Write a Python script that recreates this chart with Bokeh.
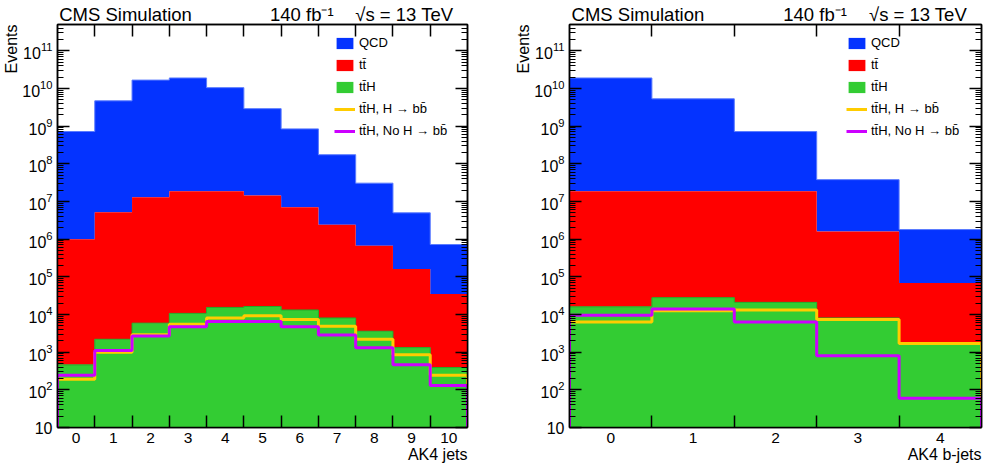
import numpy as np
from bokeh.plotting import figure
from bokeh.layouts import row
from bokeh.models import (Range1d, FixedTicker, LogAxis, LinearAxis, Legend, Title,
                          LegendItem, CustomJSTickFormatter)
from bokeh.embed import file_html
from bokeh.resources import INLINE

# ---------------- data ----------------
# Left panel: AK4 jets multiplicity
njet_bins = [0, 1, 2, 3, 4, 5, 6, 7, 8, 9, 10]
njet_qcd = [7.2e8, 4.7e9, 1.67e10, 1.9e10, 1.05e10, 2.9e9, 8.4e8, 1.72e8, 3.0e7, 4.84e6, 6.85e5]
njet_tt = [1.0e6, 5.2e6, 1.3e7, 1.86e7, 1.86e7, 1.45e7, 7.0e6, 2.4e6, 6.7e5, 1.59e5, 3.46e4]
njet_tth = [460, 2200, 5900, 10700, 15400, 16300, 13200, 8100, 3600, 1320, 390]
njet_tth_hbb = [190, 1000, 2900, 5500, 8100, 9200, 7400, 4900, 2200, 850, 245]
njet_tth_nohbb = [245, 1100, 2700, 4700, 6500, 6500, 4700, 2850, 1300, 460, 130]

# Right panel: AK4 b-jets multiplicity
nb_bins = [0, 1, 2, 3, 4]
nb_qcd = [1.9e10, 5.3e9, 7.0e8, 3.64e7, 1.73e6]
nb_tt = [1.86e7, 1.86e7, 1.86e7, 1.6e6, 6.7e4]
nb_tth = [16000, 28000, 21000, 8100, 1750]
nb_tth_hbb = [6300, 12500, 13200, 7400, 1700]
nb_tth_nohbb = [9500, 14000, 6300, 800, 60]

legend_labels = ["QCD", "tt\u0304", "tt\u0304H", "tt\u0304H, H \u2192 bb\u0304",
                 "tt\u0304H, No H \u2192 bb\u0304"]
header_texts = ["CMS Simulation", "140 fb\u207b\u00b9", "\u221as = 13 TeV"]

FONT = "Liberation Sans"
C_QCD = "#0433ff"
C_QCD_EDGE = "#5a7bff"
C_TT = "#ff0000"
C_TTH = "#33cc33"
C_TTH_EDGE = "#26a626"
C_HBB = "#ffcc00"
C_NOHBB = "#cc00ff"

Y_MIN, Y_MAX = 10, 5e11


def step_path(vals):
    vals = np.asarray(vals, float)
    edges = np.arange(len(vals) + 1) - 0.5
    xs = np.column_stack([edges[:-1], edges[1:]]).ravel()
    ys = np.repeat(vals, 2)
    return xs, ys


def step_line(vals, low=1.0):
    xs, ys = step_path(vals)
    return (np.concatenate([[xs[0]], xs, [xs[-1]]]),
            np.concatenate([[low], ys, [low]]))


def band(p, bottom, top, color):
    xt, yt = step_path(top)
    xb, yb = step_path(bottom)
    xs = np.concatenate([xt, xb[::-1]])
    ys = np.concatenate([yt, yb[::-1]])
    return p.patch(xs, ys, fill_color=color, line_color=None)


def panel(bins, qcd, tt, tth, hbb, nohbb, xlabel, width, bl, br):
    n = len(bins)
    tth = np.array(tth, float)
    tt = np.array(tt, float)
    qcd = np.array(qcd, float)
    top1 = tth
    top2 = tth + tt
    top3 = top2 + qcd

    p = figure(width=width, height=470, y_axis_type="log",
               x_range=Range1d(-0.5, n - 0.5), y_range=Range1d(Y_MIN, Y_MAX),
               output_backend="svg", toolbar_location=None,
               min_border_left=bl, min_border_right=br, min_border_top=23, min_border_bottom=43)
    p.background_fill_color = "white"
    p.border_fill_color = "white"
    p.outline_line_color = "black"
    p.outline_line_width = 1.5
    p.xgrid.visible = False
    p.ygrid.visible = False

    r_qcd = band(p, top2, top3, C_QCD)
    r_tt = band(p, top1, top2, C_TT)
    r_tth = band(p, np.full(n, 1.0), top1, C_TTH)
    xs, ys = step_line(top3)
    p.line(xs, ys, line_color=C_QCD_EDGE, line_width=1)
    xs, ys = step_line(top1)
    p.line(xs, ys, line_color=C_TTH_EDGE, line_width=1)
    xs, ys = step_line(hbb)
    r_hbb = p.line(xs, ys, line_color=C_HBB, line_width=3)
    xs, ys = step_line(nohbb)
    r_nohbb = p.line(xs, ys, line_color=C_NOHBB, line_width=3)

    rends = [r_qcd, r_tt, r_tth, r_hbb, r_nohbb]
    legend = Legend(items=[LegendItem(label=l, renderers=[r]) for l, r in zip(legend_labels, rends)],
                    location=(277, 289), glyph_width=21, glyph_height=14, label_height=14,
                    spacing=7, padding=0, margin=0, label_standoff=4,
                    label_text_font=FONT, label_text_font_size="13px", label_text_color="black",
                    border_line_color=None, background_fill_alpha=0)
    p.add_layout(legend, "center")

    edges = list(np.arange(n + 1)[1:-1] - 0.5)
    decades = [10 ** k for k in range(1, 12)]
    minors = [m * 10 ** k for k in range(1, 12) for m in range(2, 10) if m * 10 ** k < Y_MAX]

    xa = p.xaxis[0]
    xa.ticker = FixedTicker(ticks=list(bins), minor_ticks=edges)
    xa.major_tick_in = 0
    xa.major_tick_out = 0
    xa.minor_tick_in = 12
    xa.minor_tick_out = 0
    xa.minor_tick_line_width = 1.5
    xa.minor_tick_line_color = "black"
    xa.axis_line_width = 1.5
    xa.major_label_text_font = FONT
    xa.major_label_text_font_size = "15.5px"
    xa.major_label_text_color = "black"
    xa.major_label_standoff = 5

    ya = p.yaxis[0]
    ya.ticker = FixedTicker(ticks=decades, minor_ticks=minors)
    ya.major_tick_in = 12
    ya.major_tick_out = 0
    ya.minor_tick_in = 6
    ya.minor_tick_out = 0
    ya.major_tick_line_width = 1.5
    ya.minor_tick_line_width = 1.2
    ya.axis_line_width = 1.5
    ya.major_label_text_font = FONT
    ya.major_label_text_font_size = "16px"
    ya.major_label_text_color = "black"
    ya.major_label_standoff = 5
    ya.major_label_overrides = {10: "10"}

    # top axis: bin-edge ticks + the header texts as its labels
    span = n
    hdr_pos = [round(-0.5 + f * span, 4) for f in (0.166, 0.596, 0.846)]
    top = LinearAxis(ticker=FixedTicker(ticks=hdr_pos, minor_ticks=edges),
                     formatter=CustomJSTickFormatter(code="return ''"),
                     major_label_overrides={pos: t for pos, t in zip(hdr_pos, header_texts)},
                     major_tick_in=0, major_tick_out=0, minor_tick_in=12,
                     minor_tick_out=0, minor_tick_line_width=1.5, axis_line_width=1.5,
                     major_label_text_font=FONT, major_label_text_font_size="18.5px",
                     major_label_text_color="black", major_label_standoff=0)
    p.add_layout(top, "above")

    right = LogAxis(ticker=FixedTicker(ticks=decades, minor_ticks=minors),
                    formatter=CustomJSTickFormatter(code="return ''"),
                    major_label_text_font_size="1px", major_label_standoff=0,
                    major_tick_in=12, major_tick_out=0, minor_tick_in=6, minor_tick_out=0,
                    major_tick_line_width=1.5, minor_tick_line_width=1.2, axis_line_width=1.5)
    p.add_layout(right, "right")

    p.add_layout(Title(text="Events", align="right", text_font=FONT, text_font_size="16px",
                       text_font_style="normal", text_color="black", standoff=0, offset=0), "left")
    p.add_layout(Title(text=xlabel, align="right", text_font=FONT, text_font_size="16px",
                       text_font_style="normal", text_color="black", standoff=0,
                       vertical_align="top", offset=0), "below")
    return p


p1 = panel(njet_bins, njet_qcd, njet_tt, njet_tth, njet_tth_hbb, njet_tth_nohbb,
           "AK4 jets", 491, 55, 24)
p2 = panel(nb_bins, nb_qcd, nb_tt, nb_tth, nb_tth_hbb, nb_tth_nohbb,
           "AK4 b-jets", 492, 78, 2)

layout = row(p1, p2, spacing=0)
open("out.html", "w").write(file_html(layout, INLINE))
